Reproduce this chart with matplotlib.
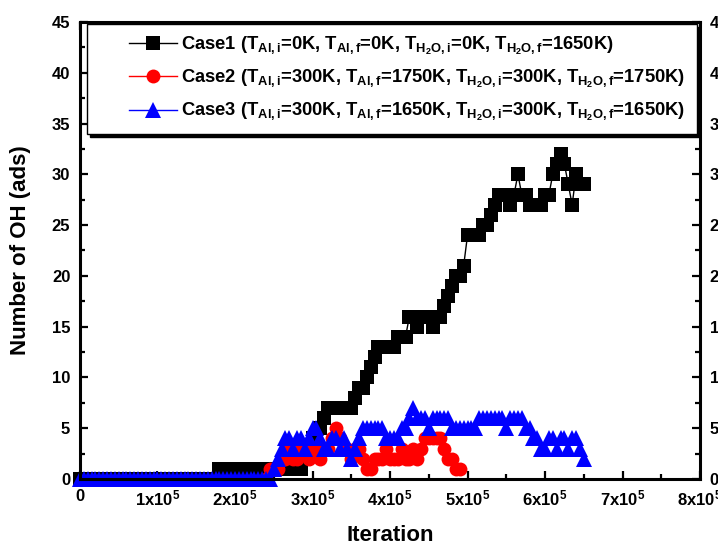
import matplotlib
matplotlib.use("Agg")
import matplotlib.pyplot as plt
import numpy as np
from matplotlib.legend_handler import HandlerLine2D
from matplotlib.ticker import MultipleLocator, FixedLocator

plt.rcParams['font.family'] = ['Liberation Sans', 'DejaVu Sans']
plt.rcParams['font.weight'] = 'bold'
plt.rcParams['mathtext.fontset'] = 'custom'
plt.rcParams['mathtext.rm'] = 'Liberation Sans:bold'
plt.rcParams['mathtext.it'] = 'Liberation Sans:bold'
plt.rcParams['mathtext.bf'] = 'Liberation Sans:bold'

# Adsorbed OH count, sampled every 5,000 iterations
sample_step = 5000

case1_start = 0
case1_oh = [0, 0, 0, 0, 0, 0, 0, 0, 0, 0,
            0, 0, 0, 0, 0, 0, 0, 0, 0, 0,
            0, 0, 0, 0, 0, 0, 0, 0, 0, 0,
            0, 0, 0, 0, 0, 0,
            1, 1, 1, 1, 1, 1, 1, 1, 1, 1,
            1, 1, 1, 1, 1, 1, 1, 1, 1, 1,
            1, 1,
            2, 3, 4, 4, 5, 6, 7, 7, 7, 7,
            7, 7, 7, 8, 9, 9, 10, 11, 12, 13,
            13, 13, 13, 13, 14, 14, 14, 16, 16, 15,
            16, 16, 16, 15, 16, 16, 17, 18, 19, 20,
            20, 21, 24, 24, 24, 24, 25, 25, 26, 27,
            28, 28, 28, 27, 28, 30, 28, 28, 27, 27,
            27, 27, 28, 28, 30, 31, 32, 31, 29, 27,
            30, 29, 29]

case2_start = 240000
case2_oh = [0, 1, 1, 1, 2, 2, 3, 2, 2, 3,
            3, 2, 3, 3, 2, 3, 3, 4, 5, 4,
            3, 3, 2, 3, 3, 2, 1, 1, 2, 2,
            2, 3, 2, 2, 2, 3, 2, 2, 3, 2,
            3, 4, 4, 4, 4, 4, 3, 2, 2, 1,
            1]

case3_start = 0
case3_oh = [0, 0, 0, 0, 0, 0, 0, 0, 0, 0,
            0, 0, 0, 0, 0, 0, 0, 0, 0, 0,
            0, 0, 0, 0, 0, 0, 0, 0, 0, 0,
            0, 0, 0, 0, 0, 0, 0, 0, 0, 0,
            0, 0, 0, 0, 0, 0, 0, 0, 0, 0,
            1, 2, 3, 4, 4, 3, 4, 4, 3, 4,
            5, 5, 4, 3, 3, 4, 4, 3, 4, 3,
            2, 3, 4, 5, 5, 5, 5, 5, 5, 4,
            4, 4, 4, 5, 5, 6, 7, 6, 6, 6,
            5, 6, 6, 6, 6, 6, 5, 5, 5, 5,
            5, 5, 5, 6, 6, 6, 6, 6, 6, 6,
            5, 6, 6, 6, 6, 5, 5, 4, 4, 3,
            3, 4, 4, 3, 4, 4, 3, 4, 4, 3,
            2]

case_labels = [
    r"Case1 (T$_{Al,i}$=0K, T$_{Al,f}$=0K, T$_{H_2O,i}$=0K, T$_{H_2O,f}$=1650K)",
    r"Case2 (T$_{Al,i}$=300K, T$_{Al,f}$=1750K, T$_{H_2O,i}$=300K, T$_{H_2O,f}$=1750K)",
    r"Case3 (T$_{Al,i}$=300K, T$_{Al,f}$=1650K, T$_{H_2O,i}$=300K, T$_{H_2O,f}$=1650K)",
]

x_ticks = [0, 100000, 200000, 300000, 400000, 500000, 600000, 700000, 800000]
x_tick_labels = ["0"] + [r"$%dx10^{5}$" % k for k in range(1, 9)]


class OffsetLineHandler(HandlerLine2D):
    """Line handle that starts some distance in from the legend's left edge."""

    def __init__(self, shift, **kw):
        super().__init__(**kw)
        self.shift = shift

    def get_xdata(self, legend, xdescent, ydescent, width, height, fontsize):
        s = self.shift * fontsize
        x0 = -xdescent + s
        x1 = -xdescent + width
        return [x0, x1], [0.5 * (x0 + x1)]


fig = plt.figure(figsize=(7.18, 5.52), dpi=100)
ax = fig.add_axes([0.1114, 0.1322, 0.8636, 0.8280])

series = [
    (case1_start, case1_oh, 'black', 's', 10.5),
    (case2_start, case2_oh, 'red', 'o', 10),
    (case3_start, case3_oh, 'blue', '^', 11.5),
]
handles = []
for start, values, color, marker, ms in series:
    x = start + np.arange(len(values)) * sample_step
    h, = ax.plot(x, values, color=color, marker=marker, markersize=ms,
                 linewidth=1.0, markeredgewidth=0, clip_on=False)
    handles.append(h)

ax.set_xlim(0, 800000)
ax.set_ylim(0, 45)

ax.xaxis.set_major_locator(FixedLocator(x_ticks))
ax.set_xticklabels(x_tick_labels)
ax.xaxis.set_minor_locator(MultipleLocator(50000))
ax.yaxis.set_major_locator(MultipleLocator(5))
ax.yaxis.set_minor_locator(MultipleLocator(2.5))

for side in ['left', 'right', 'top', 'bottom']:
    ax.spines[side].set_linewidth(2.2)

ax.tick_params(which='both', direction='in', top=True, right=True,
               labelright=True, width=1.6, labelsize=12)
ax.tick_params(which='major', length=6, pad=7)
ax.tick_params(which='minor', length=3.5)
for lab in ax.get_xticklabels() + ax.get_yticklabels():
    lab.set_fontweight('bold')

ax.set_xlabel("Iteration", fontsize=16, fontweight='bold', labelpad=12)
ax.set_ylabel("Number of OH (ads)", fontsize=16, fontweight='bold', labelpad=15)

leg = ax.legend(handles, case_labels, loc='upper left',
                bbox_to_anchor=(0.012, 0.996), borderaxespad=0,
                fontsize=13.2, frameon=True, fancybox=False,
                edgecolor='black', framealpha=1,
                shadow={'color': 'black', 'alpha': 1},
                handlelength=4.26, handletextpad=0.27, labelspacing=0.6,
                borderpad=0.6,
                handler_map={h: OffsetLineHandler(1.65) for h in handles})
leg.get_frame().set_linewidth(1.0)
for t in leg.get_texts():
    t.set_fontweight('bold')

fig.savefig("out.png", dpi=100)
